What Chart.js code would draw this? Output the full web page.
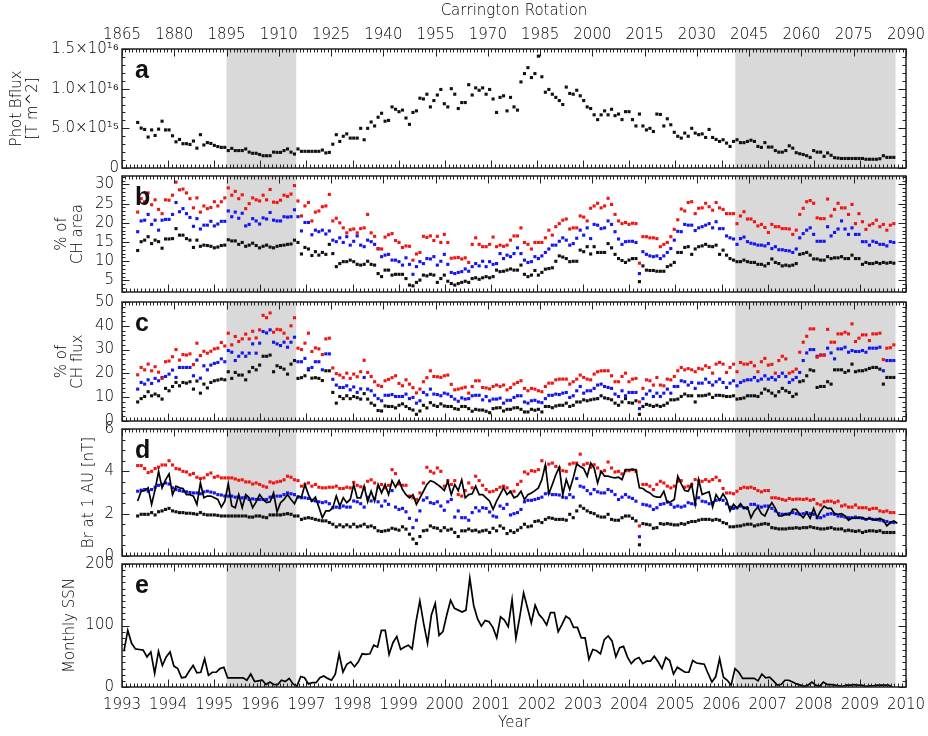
<!DOCTYPE html>
<html>
<head>
<meta charset="utf-8">
<title>Photospheric flux, coronal holes and open field, 1993-2010</title>
<script src="https://cdn.jsdelivr.net/npm/chart.js@4.4.1/dist/chart.umd.min.js"></script>
<style>
  html, body { margin: 0; padding: 0; background: #fff; }
  #page { position: relative; width: 928px; height: 736px; overflow: hidden; background: #fff; }
  #page canvas { position: absolute; left: 0; }
</style>
</head>
<body>
<div id="page"></div>
<script>
// ---------------------------------------------------------------------------
// Axes
// ---------------------------------------------------------------------------
const rotationTicks = [1865, 1880, 1895, 1910, 1925, 1940, 1955, 1970, 1985, 2000, 2015, 2030, 2045, 2060, 2075, 2090];
const yearTicks = [1993, 1994, 1995, 1996, 1997, 1998, 1999, 2000, 2001, 2002, 2003, 2004, 2005, 2006, 2007, 2008, 2009, 2010];

// Solar-minimum intervals (Carrington rotations) that are shaded grey
const quietRotations = [[1895, 1915], [2041, 2087]];

// One value per Carrington rotation, starting at this rotation
const firstRotation = 1869;

// (a) photospheric unsigned flux, in units of 1e15 T m^2
const photFluxE15 = [
  5.74, 5.03, 4.86, 3.9, 4.8, 4.1, 4.9, 5.9, 4.8, 4.8,
  4.06, 3.3, 3.6, 3.06, 3.06, 2.97, 3.4, 2.5, 4.2, 2.9,
  3.2, 3.1, 2.85, 2.7, 2.6, 2.6, 2.2, 2.47, 2.2, 2.2,
  2.2, 2.4, 2.0, 1.85, 1.85, 1.7, 1.55, 1.55, 1.55, 2.0,
  1.97, 1.97, 2.2, 2.4, 2.0, 1.76, 2.4, 2.1, 2.1, 2.1,
  2.1, 2.1, 2.1, 2.26, 1.9, 1.97, 3.0, 4.2, 3.35, 4.0,
  4.3, 3.77, 3.77, 3.77, 5.0, 3.56, 5.0, 5.8, 5.3, 6.4,
  6.9, 5.9, 6.0, 7.7, 7.4, 7.1, 7.3, 6.3, 5.5, 7.0,
  7.2, 8.8, 8.7, 9.3, 7.7, 8.5, 9.2, 9.9, 8.1, 7.7,
  10.0, 9.3, 7.5, 8.25, 8.25, 10.5, 9.2, 10.1, 9.8, 10.1,
  9.3, 9.9, 8.7, 7.0, 8.9, 9.1, 7.2, 8.9, 7.7,
  7.3, 10.85, 11.9, 12.65, 11.4, 11.9, 14.1, 11.5, 9.55, 9.9,
  9.3, 8.9, 8.5, 8.0, 10.2, 9.4, 9.3, 9.8, 9.1, 8.5,
  7.7, 7.5, 6.7, 6.1, 6.7, 7.2, 6.7, 7.4, 6.6, 6.8,
  6.1, 7.1, 7.1, 6.1, 5.3, 6.8, 5.3, 4.8, 5.0, 4.6,
  6.8, 6.75, 5.3, 6.2, 5.45, 4.5, 4.0, 3.77, 4.4, 4.0,
  5.0, 4.4, 4.2, 4.3, 3.85, 4.86, 3.85, 3.6, 3.35, 3.56,
  3.14, 2.72, 3.35, 3.56, 3.2, 3.2, 3.35, 3.5, 3.35, 2.72,
  2.6, 3.2, 2.64, 2.64, 2.2, 2.0, 2.0, 2.2, 2.8, 2.5,
  1.93, 1.8, 1.7, 1.55, 1.34, 2.2, 2.0, 2.0, 1.47, 1.9,
  1.6, 1.3, 1.25, 1.2, 1.2, 1.2, 1.2, 1.2, 1.2, 1.2,
  1.1, 1.1, 1.1, 1.1, 1.17, 1.55, 1.34, 1.34, 1.34
];

// (b) coronal-hole area, % (red / blue / black estimates)
const chAreaRed = [
  22.8, 26.3, 25.5, 27.8, 24.7, 26.0, 23.5, 22.4, 26.0, 25.9,
  27.2, 30.6, 28.6, 28.8, 27.8, 26.3, 23.9, 26.5, 22.8, 24.4,
  23.7, 24.0, 25.5, 24.4, 25.5, 26.5, 29.1, 27.2, 28.2, 26.3,
  27.3, 23.7, 25.0, 26.5, 26.0, 25.7, 27.2, 26.0, 28.7, 25.4,
  25.3, 25.9, 27.2, 26.9, 27.5, 29.7, 25.7, 21.8, 24.4, 25.3,
  20.5, 22.8,
  23.1, 24.2, 24.4, 27.4, 20.5, 21.2, 20.0, 18.7, 17.4, 18.2,
  18.4, 17.4, 18.5, 18.7, 22.2, 17.4, 16.5, 13.2, 13.2, 16.3,
  16.9, 17.2, 15.4, 14.9, 13.6, 14.0, 13.9, 10.3, 11.9, 12.3,
  16.5, 16.2, 16.6, 15.4, 16.5, 14.9, 17.0, 14.9, 10.8, 10.9,
  11.0, 10.6, 10.9, 9.7, 14.4, 16.1, 14.4, 13.8, 13.8, 14.4,
  16.3, 13.8, 14.2, 13.9, 14.2, 15.5, 16.6,
  16.6, 18.7, 14.9, 14.4, 13.2, 14.9, 14.9, 14.9, 16.1, 18.1,
  16.8, 19.0, 19.8, 20.7, 21.0, 18.4, 18.7, 18.7, 21.8, 21.5,
  20.5, 23.8, 24.4, 25.1, 23.9, 24.4, 26.4, 24.8, 22.2, 20.5,
  19.8, 20.1, 19.6, 19.9, 19.8, 9.5,
  16.4, 16.4, 16.1, 16.1, 15.9, 13.8, 14.4, 14.9, 16.4, 18.3,
  20.8, 23.6, 23.1, 25.3, 25.5, 22.4, 23.8, 23.9, 25.1, 24.2,
  23.3, 25.3, 23.9, 23.5, 22.4, 22.4, 22.4, 19.8, 21.8, 22.9,
  21.0, 21.0, 20.3, 19.2, 19.6, 18.8, 17.5, 19.6, 19.0, 19.0,
  18.5, 18.5, 18.4, 17.0, 18.1, 22.2, 23.8, 25.5, 25.8, 25.1,
  21.3, 21.1, 21.1, 26.2, 21.8, 23.5, 25.1, 23.9, 23.9, 22.2,
  24.8, 19.8, 22.4, 20.3, 18.3, 19.4, 19.8, 20.7, 19.0, 19.6,
  18.1, 19.4, 19.8
];
const chAreaBlue = [
  17.7, 20.5, 20.7, 22.2, 19.6, 20.7, 18.1, 20.7, 20.9, 20.9,
  22.2, 25.3, 22.9, 23.7, 22.4, 21.4, 19.1, 21.1, 18.4, 19.4,
  19.4, 20.4, 19.2, 19.7, 20.4, 20.4, 23.1, 21.6, 22.8, 21.2,
  22.5, 19.2, 19.6, 21.1, 20.5, 19.7, 21.3, 21.0, 22.7, 20.7,
  20.5, 20.5, 21.6, 21.5, 21.6, 23.4, 21.6, 17.9, 20.1, 20.1,
  16.9, 18.1,
  17.7, 18.1, 17.1, 17.9, 15.5, 15.1, 16.1, 14.9, 16.4, 14.2,
  15.2, 16.6, 14.2, 13.8, 15.5, 15.1, 14.4, 13.3, 11.2, 11.6,
  11.8, 10.3, 10.3, 9.9, 9.0, 10.9, 9.2, 6.6, 8.6, 9.9,
  9.4, 10.7, 10.6, 11.2, 9.0, 10.0, 11.8, 9.2, 7.1, 6.8,
  7.1, 7.3, 8.0, 7.4, 8.6, 9.4, 8.8, 10.0, 8.6, 9.9,
  9.2, 9.4, 12.0, 10.7, 11.6, 11.2, 12.0,
  13.5, 12.0, 10.3, 9.7, 9.9, 11.2, 10.7, 11.4, 12.3, 13.2,
  14.2, 14.2, 15.2, 16.1, 15.5, 14.2, 14.6, 16.0, 18.1, 16.8,
  18.7, 15.9, 19.6, 19.4, 18.5, 18.7, 20.5, 19.6, 17.7, 15.8,
  14.4, 15.1, 15.2, 15.2, 14.9, 6.8,
  12.5, 11.8, 11.4, 11.2, 11.4, 10.7, 11.4, 12.3, 13.3, 15.5,
  17.8, 17.7, 19.6, 19.4, 19.4, 18.0, 18.7, 19.0, 19.4, 19.8,
  18.7, 20.3, 18.5, 18.5, 16.6, 16.1, 15.8, 14.4, 15.9, 16.3,
  15.1, 14.7, 14.5, 14.2, 14.2, 14.0, 14.6, 13.3, 13.8, 13.0,
  13.0, 12.8, 12.7, 12.3, 13.2, 16.1, 17.2, 18.1, 18.7, 17.0,
  15.2, 15.2, 15.2, 19.0, 16.6, 17.5, 18.4, 20.5, 18.4, 17.0,
  18.7, 17.0, 17.0, 15.1, 15.1, 14.2, 15.2, 14.9, 14.4, 14.4,
  14.0, 15.1, 14.9
];
const chAreaBlack = [
  12.8, 15.1, 15.5, 16.4, 14.6, 15.5, 15.1, 13.4, 15.8, 15.8,
  15.9, 18.5, 16.8, 16.8, 15.9, 15.5, 13.6, 15.5, 13.9, 14.2,
  14.1, 13.9, 13.5, 13.7, 14.1, 14.2, 15.6, 15.3, 15.3, 14.4,
  14.9, 13.9, 14.2, 14.7, 14.1, 13.5, 13.9, 14.2, 13.7, 13.5,
  13.9, 14.1, 14.2, 14.4, 14.5, 15.5, 14.9, 11.9, 13.6, 13.2,
  11.5, 12.5,
  11.6, 12.3, 11.8, 14.4, 12.0, 8.6, 9.4, 9.9, 9.9, 10.3,
  9.9, 9.2, 9.0, 9.2, 10.0, 9.2, 9.0, 6.8, 6.0, 7.7,
  7.7, 6.4, 6.6, 6.6, 6.6, 5.5, 3.8, 3.6, 4.5, 5.1,
  6.4, 6.2, 6.6, 6.4, 4.5, 5.5, 6.4, 4.8, 4.2, 3.8,
  4.2, 4.5, 4.8, 4.5, 5.5, 5.7, 5.3, 5.7, 6.0, 5.7,
  6.0, 7.7, 7.3, 7.4, 7.7, 8.0, 7.7,
  7.7, 9.0, 6.6, 6.0, 6.4, 7.6, 6.4, 7.1, 7.95, 8.1,
  8.3, 10.0, 11.4, 11.1, 10.7, 9.9, 10.0, 10.0, 12.9, 12.5,
  13.8, 11.9, 13.8, 12.3, 12.3, 12.3, 14.6, 13.5, 11.8, 10.7,
  10.2, 9.7, 10.3, 10.7, 10.7, 4.7,
  8.8, 7.7, 7.6, 7.6, 7.4, 7.4, 7.4, 8.6, 9.0, 9.7,
  12.3, 12.3, 13.6, 13.8, 11.8, 13.2, 13.8, 14.0, 14.4, 13.9,
  13.8, 14.2, 11.8, 12.9, 11.6, 10.7, 10.3, 9.9, 9.9, 10.3,
  9.9, 9.7, 9.7, 9.2, 9.2, 8.8, 9.4, 10.6, 9.7, 9.4,
  8.8, 9.0, 8.8, 9.0, 9.4, 11.8, 12.0, 12.3, 11.6, 10.6,
  10.6, 10.3, 10.3, 11.2, 10.7, 10.9, 10.9, 11.2, 10.7, 10.7,
  11.6, 10.7, 10.7, 9.2, 9.7, 9.4, 9.4, 9.7, 9.4, 9.7,
  9.5, 9.7, 9.5
];

// (c) coronal-hole share of the photospheric flux, %
const chFluxRed = [
  19.4, 22.5, 21.5, 23.9, 21.1, 22.8, 20.5, 17.9, 24.9, 25.2,
  27.0, 30.0, 25.6, 27.9, 27.7, 28.2, 23.7, 32.7, 27.5, 29.3,
  28.5, 29.3, 30.3, 30.6, 33.0, 31.5, 36.9, 32.0, 35.5, 33.4,
  34.5, 36.5, 34.5, 37.7, 34.9, 38.3, 44.4, 43.4, 45.4, 37.3,
  38.5, 38.3, 36.9, 34.8, 40.0, 43.4, 30.6, 30.0, 32.7, 36.9,
  29.2, 30.7, 30.3, 27.9, 34.5, 34.8, 22.3, 19.9, 19.3, 18.2,
  20.1, 17.9, 19.7, 18.6, 20.7, 25.5, 20.4, 18.7, 16.5, 15.0,
  14.5, 16.9, 17.5, 18.2, 19.0, 15.8, 14.8, 17.3, 15.5, 14.0,
  11.8, 13.4, 16.5, 18.2, 21.1, 18.7, 18.6, 18.3, 19.0, 19.3,
  15.4, 13.1, 13.4, 13.8, 14.2, 11.7, 14.5, 16.9, 16.9, 14.1,
  13.9, 13.5, 14.5, 15.1, 14.5, 15.1, 13.1, 14.0, 15.5,
  16.2, 16.9, 13.7, 12.7, 13.7, 13.4, 12.7, 12.3, 14.5, 15.9,
  15.9, 17.3, 17.6, 17.6, 17.6, 15.5, 16.5, 17.6, 19.3, 18.3,
  17.6, 17.3, 19.7, 20.7, 21.1, 21.1, 21.1, 19.0, 16.5, 16.5,
  18.7, 20.1, 16.5, 17.6, 17.9, 8.0,
  13.7, 17.3, 16.9, 15.1, 18.3, 15.1, 14.8, 17.6, 17.3, 18.7,
  21.1, 22.5, 21.5, 22.0, 21.5, 20.7, 22.1, 21.8, 23.2, 22.5,
  20.1, 23.9, 24.6, 23.9, 20.4, 22.5, 23.9, 20.7, 24.6, 23.9,
  23.9, 24.6, 23.2, 20.7, 24.9, 26.3, 23.5, 23.8, 20.1, 25.4,
  27.2, 26.1, 20.1, 20.7, 21.8, 28.9, 33.1, 35.6, 38.7, 38.7,
  26.8, 27.7, 27.7, 38.5, 33.1, 33.1, 36.6, 36.6, 37.3, 36.6,
  40.8, 33.4, 34.8, 36.2, 36.2, 33.8, 36.6, 36.6, 36.9, 25.8,
  30.6, 30.8, 32.0
];
const chFluxBlue = [
  13.4, 16.2, 15.5, 17.3, 15.8, 17.9, 16.9, 18.3, 18.7, 19.7,
  21.4, 18.3, 22.5, 22.5, 22.5, 22.5, 19.0, 25.6, 18.0, 23.2,
  21.5, 23.5, 24.2, 24.6, 26.1, 24.9, 29.6, 28.9, 25.4, 27.2,
  28.6, 27.2, 28.5, 32.4, 28.5, 32.7, 37.6, 37.0, 38.3, 33.1,
  32.4, 31.7, 33.1, 31.0, 33.1, 35.2, 24.9, 24.9, 26.3, 22.0,
  22.5, 24.9, 24.9, 21.5, 28.2, 28.2, 17.5, 15.1, 14.1, 14.1,
  14.8, 13.1, 14.3, 12.0, 13.5, 18.3, 13.4, 12.7, 10.8, 9.4,
  8.5, 10.8, 10.8, 11.1, 10.3, 10.3, 10.3, 11.3, 9.4, 9.9,
  7.5, 8.5, 12.0, 11.0, 13.4, 11.3, 11.1, 10.6, 11.7, 11.3,
  10.3, 9.2, 8.3, 9.7, 9.2, 9.4, 10.6, 10.8, 10.8, 8.9,
  10.3, 8.5, 9.2, 9.2, 9.6, 7.5, 8.7, 8.7, 9.9,
  10.6, 10.6, 8.0, 7.5, 8.5, 8.7, 8.0, 7.7, 9.4, 10.8,
  10.8, 11.3, 11.1, 11.7, 12.0, 9.9, 10.6, 12.7, 14.5, 11.7,
  12.7, 12.7, 13.7, 15.1, 15.5, 14.5, 14.1, 13.7, 11.3, 10.3,
  12.7, 10.6, 12.0, 12.0, 12.0, 5.2,
  9.4, 11.3, 12.7, 10.3, 11.7, 10.3, 11.7, 13.4, 11.7, 14.5,
  14.5, 16.9, 16.5, 15.1, 16.2, 13.7, 15.9, 15.9, 17.6, 16.2,
  15.1, 16.5, 17.6, 16.2, 14.1, 15.9, 16.9, 14.8, 16.2, 16.9,
  17.3, 17.3, 18.3, 16.9, 17.6, 19.0, 17.6, 18.3, 17.3, 18.7,
  20.1, 18.7, 16.2, 17.3, 18.3, 20.4, 25.4, 28.6, 30.0, 30.0,
  27.2, 27.7, 27.7, 30.6, 28.6, 26.1, 30.3, 30.3, 31.0, 28.9,
  29.6, 29.2, 29.2, 29.6, 28.9, 30.6, 30.6, 30.6, 31.0, 21.1,
  25.4, 25.4, 25.4
];
const chFluxBlack = [
  8.0, 9.4, 10.3, 12.3, 10.6, 11.3, 10.6, 9.2, 13.7, 12.7,
  14.5, 16.2, 14.8, 16.2, 15.9, 16.5, 13.4, 16.8, 11.7, 15.5,
  13.9, 16.2, 16.9, 17.2, 17.6, 17.3, 20.7, 17.9, 20.4, 19.3,
  19.3, 17.3, 20.7, 22.5, 21.5, 23.5, 27.2, 27.2, 27.7, 20.7,
  23.2, 22.5, 21.8, 19.7, 23.9, 25.4, 17.9, 18.2, 19.0, 21.5,
  18.0, 18.2, 17.9, 17.0, 21.1, 21.1, 12.0, 7.5, 10.3, 9.4,
  10.6, 9.4, 10.3, 9.8, 9.2, 11.5, 9.2, 7.5, 6.6, 4.4,
  4.2, 6.3, 6.1, 6.1, 5.5, 6.6, 7.2, 6.1, 5.2, 4.6,
  2.8, 4.2, 6.6, 5.5, 7.7, 6.6, 6.1, 7.2, 6.3, 6.1,
  6.1, 5.2, 4.9, 6.1, 6.1, 5.2, 4.1, 4.9, 4.6, 4.6,
  4.1, 3.5, 5.2, 5.5, 5.6, 4.2, 4.9, 4.9, 5.5,
  5.6, 4.9, 3.8, 3.8, 4.9, 4.5, 4.9, 3.8, 6.1, 6.1,
  5.6, 6.3, 6.6, 6.6, 7.5, 6.1, 6.6, 8.0, 8.0, 8.9,
  8.5, 8.9, 9.2, 9.4, 10.6, 9.7, 9.4, 8.9, 7.5, 6.6,
  8.0, 9.4, 7.7, 7.5, 8.5, 2.8,
  6.1, 7.0, 6.6, 6.1, 6.6, 6.1, 6.6, 7.5, 8.9, 8.9,
  9.2, 10.3, 11.3, 10.6, 10.6, 8.0, 10.6, 10.6, 10.8, 11.3,
  9.9, 10.8, 10.8, 10.6, 10.3, 10.3, 10.6, 9.2, 9.4, 9.7,
  10.6, 10.6, 10.6, 10.3, 11.7, 13.4, 12.7, 11.7, 10.6, 12.3,
  13.7, 12.7, 12.0, 10.3, 11.3, 16.5, 16.9, 19.0, 21.5, 21.1,
  14.1, 14.5, 14.5, 16.5, 15.5, 21.5, 21.5, 21.5, 20.4, 21.1,
  23.9, 20.7, 21.1, 21.1, 21.5, 22.1, 22.5, 22.5, 21.8, 15.5,
  18.3, 18.3, 18.3
];

// (d) radial field at 1 AU, nT: model estimates (dots) and observed (line)
const brRed = [
  4.27, 4.27, 4.13, 3.94, 4.0, 4.13, 4.2, 4.3, 4.3, 4.5,
  4.3, 4.13, 4.1, 4.0, 3.97, 3.84, 3.9, 3.72, 3.66, 3.69,
  3.84, 3.92, 3.72, 3.77, 3.69, 3.69, 3.69, 3.69, 3.64, 3.58,
  3.6, 3.5, 3.5, 3.4, 3.45, 3.38, 3.3, 3.25, 3.5, 3.45,
  3.5, 3.53, 3.6, 3.77, 3.72, 3.6, 3.56, 3.3, 3.38, 3.45,
  3.3, 3.38, 3.25, 3.22, 3.22, 3.25, 3.25, 3.3, 3.19, 3.19,
  3.25, 3.22, 3.48, 3.34, 3.27, 3.22, 3.53, 3.6, 3.45, 3.25,
  3.38, 3.22, 3.34, 4.08, 3.89, 3.4, 3.34, 3.34, 2.83, 2.75,
  2.67, 2.98, 3.45, 4.19, 4.0, 3.92, 4.16, 4.0, 3.3, 3.56,
  3.38, 3.56, 2.9, 2.83, 3.09, 3.45, 3.22, 3.77, 3.56, 3.34,
  3.14, 3.03, 3.06, 3.14, 3.25, 3.3, 3.22, 3.02, 3.06,
  3.38, 3.53, 3.97, 3.88, 4.03, 4.0, 4.08, 4.5, 4.19, 4.34,
  4.39, 4.23, 4.16, 4.03, 4.0, 4.34, 4.39, 4.39, 4.81, 4.31,
  4.38, 4.19, 4.31, 4.16, 3.97, 4.03, 4.44, 4.16, 3.97, 4.0,
  3.88, 4.03, 4.03, 4.08, 4.0, 1.42,
  3.38, 3.38, 3.3, 3.14, 3.38, 3.53, 3.45, 3.3, 3.22, 3.3,
  3.53, 3.56, 3.25, 3.3, 3.38, 3.61, 3.56, 3.53, 3.61, 3.53,
  3.61, 3.72, 3.56, 3.19, 2.98, 2.98, 2.94, 3.06, 3.19, 3.25,
  3.22, 3.25, 3.19, 3.09, 3.03, 3.09, 3.09, 2.75, 2.75, 2.72,
  2.67, 2.63, 2.72, 2.67, 2.69, 2.69, 2.67, 2.7, 2.63, 2.67,
  2.47, 2.41, 2.56, 2.59, 2.59, 2.52, 2.59, 2.36, 2.41, 2.31,
  2.31, 2.41, 2.28, 2.28, 2.28, 2.2, 2.25, 2.25, 2.13, 2.09,
  2.13, 2.05, 2.05
];
const brBlue = [
  3.06, 3.11, 3.14, 3.06, 3.14, 3.25, 3.34, 3.38, 3.45, 3.4,
  3.22, 3.14, 3.09, 3.06, 3.03, 3.0, 2.98, 2.98, 2.94, 3.03,
  3.06, 3.02, 2.98, 2.9, 2.88, 2.83, 2.83, 2.83, 2.78, 2.78,
  2.75, 2.75, 2.67, 2.7, 2.67, 2.67, 2.67, 2.67, 2.78, 2.78,
  2.83, 2.83, 2.9, 2.98, 2.94, 2.9, 2.78, 2.75, 2.75, 2.72,
  2.63, 2.6, 2.56, 2.52, 2.56, 2.47, 2.28, 2.31, 2.28, 2.36,
  2.31, 2.31, 2.6, 2.56, 2.47, 2.31, 2.78, 2.6, 2.72, 2.56,
  2.36, 2.6, 2.44, 3.09, 2.31, 2.2, 2.25, 2.09, 1.78, 1.34,
  1.69, 2.13, 2.64, 2.75, 2.52, 2.48, 2.56, 2.36, 2.16, 2.56,
  2.67, 1.84, 2.13, 1.81, 1.81, 1.69, 2.05, 2.28, 2.13, 2.28,
  2.25, 2.08, 1.89, 1.84, 2.36, 2.25, 2.44, 1.94, 2.0,
  2.05, 2.2, 2.56, 2.63, 2.63, 2.67, 2.72, 2.78, 2.94, 2.98,
  2.9, 2.9, 2.88, 2.78, 2.75, 2.9, 2.78, 3.66, 3.3, 3.25,
  3.09, 2.94, 3.14, 3.03, 2.98, 2.98, 3.14, 3.06, 2.9, 2.67,
  2.78, 2.9, 2.78, 2.72, 2.59, 0.91,
  2.44, 2.41, 2.36, 2.2, 2.28, 2.44, 2.47, 2.56, 2.44, 2.31,
  2.36, 2.31, 2.36, 2.52, 2.47, 2.44, 2.75, 2.59, 2.56, 2.47,
  2.52, 2.63, 2.67, 2.63, 2.47, 2.31, 2.25, 2.28, 2.36, 2.28,
  2.25, 2.44, 2.44, 2.36, 2.31, 2.36, 2.36, 2.25, 2.13, 2.0,
  1.97, 1.97, 2.0, 2.05, 2.0, 1.97, 2.0, 2.05, 2.0, 1.97,
  1.81, 1.81, 1.89, 1.97, 2.0, 1.97, 1.89, 1.88, 1.84, 1.81,
  1.81, 1.84, 1.81, 1.78, 1.73, 1.78, 1.73, 1.73, 1.69, 1.66,
  1.63, 1.58, 1.58
];
const brBlack = [
  1.89, 1.97, 1.97, 1.97, 2.05, 1.94, 2.09, 2.13, 2.2, 2.25,
  2.13, 2.09, 2.05, 2.05, 2.02, 2.02, 2.0, 1.97, 2.05, 1.97,
  1.94, 1.94, 1.94, 1.92, 1.89, 1.89, 1.89, 1.89, 1.89, 1.89,
  1.89, 1.89, 1.84, 1.84, 1.89, 1.89, 1.84, 1.81, 1.94, 1.94,
  1.94, 1.94, 1.97, 2.0, 1.97, 1.89, 1.89, 1.73, 1.78, 1.81,
  1.78, 1.73, 1.69, 1.66, 1.66, 1.58, 1.5, 1.38, 1.47, 1.38,
  1.47, 1.38, 1.5, 1.38, 1.42, 1.5, 1.38, 1.42, 1.34, 1.19,
  1.16, 1.19, 1.22, 1.31, 1.27, 1.22, 1.38, 1.27, 1.03, 0.8,
  0.59, 0.92, 1.19, 1.22, 1.42, 1.34, 1.31, 1.19, 1.34, 1.22,
  1.27, 1.11, 0.92, 1.19, 1.19, 1.27, 1.19, 1.22, 1.14, 1.19,
  1.22, 1.11, 1.31, 1.19, 1.42, 1.31, 1.06, 1.19, 1.11,
  1.22, 1.34, 1.5, 1.38, 1.42, 1.63, 1.66, 1.58, 1.73, 1.81,
  1.78, 1.73, 1.73, 1.73, 1.69, 1.97, 1.81, 2.13, 2.36, 2.25,
  2.13, 2.05, 2.0, 1.89, 1.84, 1.84, 1.97, 1.73, 1.69, 1.69,
  1.81, 1.89, 1.89, 1.78, 1.66, 0.53,
  1.53, 1.5, 1.47, 1.31, 1.34, 1.53, 1.5, 1.53, 1.5, 1.47,
  1.47, 1.53, 1.5, 1.58, 1.63, 1.63, 1.69, 1.73, 1.73, 1.73,
  1.69, 1.73, 1.69, 1.58, 1.53, 1.38, 1.38, 1.41, 1.42, 1.47,
  1.5, 1.5, 1.42, 1.47, 1.5, 1.53, 1.5, 1.34, 1.31, 1.28,
  1.28, 1.28, 1.31, 1.31, 1.34, 1.31, 1.34, 1.34, 1.38, 1.34,
  1.31, 1.28, 1.28, 1.31, 1.34, 1.28, 1.27, 1.28, 1.19, 1.22,
  1.19, 1.16, 1.19, 1.11, 1.16, 1.19, 1.19, 1.16, 1.19, 1.11,
  1.11, 1.11, 1.11
];
const brObserved = [
  2.6, 3.06, 3.09, 3.22, 2.44, 3.14, 4.0, 3.22, 3.6, 3.88,
  2.9, 3.3, 3.22, 3.19, 2.9, 2.9, 2.83, 2.44, 3.45, 2.75,
  2.83, 2.83, 2.75, 2.67, 2.31, 2.59, 3.41, 2.36, 2.28, 2.9,
  2.28, 2.9, 2.75, 2.28, 2.56, 2.9, 2.67, 2.52, 2.56, 2.98,
  2.09, 2.52, 2.67, 2.9, 2.67, 2.47, 2.83, 2.78, 3.38, 2.9,
  2.59, 2.78, 2.31, 1.81, 2.13, 2.13, 2.28, 2.83, 2.36, 2.75,
  2.52, 2.67, 3.38, 2.75, 2.75, 3.3, 2.56, 3.06, 2.59, 3.38,
  2.98, 3.38, 2.9, 3.56, 3.25, 3.56, 3.14, 2.9, 2.75, 2.9,
  2.44, 2.75, 3.06, 3.38, 3.56, 3.5, 3.38, 3.25, 3.09, 3.53,
  2.9, 3.38, 3.09, 3.6, 2.75, 2.9, 2.94, 3.3, 2.9, 2.9,
  2.75, 2.59, 2.2, 2.59, 2.9, 3.22, 2.9, 3.06, 2.75,
  2.83, 3.06, 2.67, 2.9, 2.98, 3.09, 3.22, 3.61, 4.31, 2.94,
  3.38, 3.84, 4.19, 2.9, 3.61, 3.14, 3.69, 4.34, 4.23, 4.13,
  3.77, 4.39, 4.16, 3.45, 4.0, 3.77, 3.77, 3.72, 3.69, 3.72,
  3.61, 4.08, 4.08, 4.08, 4.08, 3.22,
  3.19, 3.06, 2.98, 2.83, 2.78, 2.78, 3.06, 2.52, 2.56, 2.67,
  3.77, 3.41, 3.09, 3.06, 3.38, 2.44, 3.61, 2.9, 2.98, 3.03,
  2.31, 2.9, 2.63, 2.94, 2.67, 2.13, 2.44, 2.25, 2.47, 2.25,
  2.31, 1.81, 2.13, 2.31, 2.0, 1.89, 2.25, 2.52, 2.25, 1.89,
  1.89, 2.0, 1.94, 2.2, 2.2, 1.97, 1.81, 2.05, 1.78, 2.25,
  1.81, 2.13, 2.36, 2.25, 2.25, 2.0, 1.97, 2.0, 1.89, 1.69,
  1.81, 1.78, 1.81, 1.81, 1.73, 1.78, 1.73, 1.69, 1.78, 1.69,
  1.42, 1.58, 1.66, 1.55
];

// (e) monthly sunspot number, from January 1993
const ssnFirstYear = 1993;
const ssnMonthly = [
  58, 92, 71, 62, 61, 60, 49, 57, 22, 58, 35, 49,
  57, 34, 30, 15, 16, 26, 35, 23, 24, 46, 19, 24,
  24, 30, 32, 15, 15, 15, 15, 15, 11, 21, 9, 10,
  11, 4, 8, 4, 4, 11, 9, 14, 5, 1, 17, 15,
  5, 7, 7, 15, 18, 14, 11, 21, 54, 24, 37, 41,
  33, 41, 54, 53, 54, 68, 65, 92, 92, 53, 72, 82,
  61, 65, 68, 62, 106, 140, 103, 71, 117, 136, 84, 90,
  117, 141, 128, 125, 122, 125, 177, 133, 111, 99, 108, 106,
  97, 80, 114, 109, 98, 142, 79, 114, 153, 129, 104, 133,
  118, 111, 101, 121, 121, 90, 102, 115, 111, 97, 97, 80,
  80, 45, 61, 59, 54, 77, 83, 75, 49, 64, 66, 49,
  38, 45, 48, 38, 42, 42, 50, 41, 30, 48, 43, 21,
  32, 28, 24, 24, 43, 39, 38, 37, 22, 8, 17, 46,
  16, 11, 3, 30, 24, 14, 14, 14, 14, 10, 21, 15,
  16, 10, 3, 4, 11, 11, 8, 5, 3, 1, 3, 8,
  3, 1, 8, 4, 4, 3, 2, 1, 3, 3, 4, 3,
  3, 1, 2, 2, 3, 3, 3, 3, 0
];

// ---------------------------------------------------------------------------
// Drawing
// ---------------------------------------------------------------------------
const RED = '#f01515', BLUE = '#1515f0', BLACK = '#111111';
const TEXT = '#000000';
const AXIS_FONT = { family: '"DejaVu Sans", "Liberation Sans", sans-serif', size: 15, weight: '300' };
const TITLE_FONT = { family: '"DejaVu Sans", "Liberation Sans", sans-serif', size: 15, weight: '300', lineHeight: 1.07 };
const FRAME_LEFT = 122, FRAME_RIGHT = 906, PAGE_W = 928, PAGE_H = 736;
const MAJOR_TICK = 7.5, MINOR_TICK = 3.5;

const byRotation = values => values.map((v, i) => ({ x: firstRotation + i + 0.5, y: v }));
const byMonth = values => values.map((v, i) => ({ x: ssnFirstYear + (i + 0.5) / 12, y: v }));

const dots = (values, color) => ({
  data: byRotation(values), xAxisID: 'cr', showLine: false,
  pointStyle: 'rect', pointRadius: 2.2, pointHoverRadius: 2.2,
  pointBorderWidth: 0, backgroundColor: color, borderColor: color
});
const line = (data, xAxisID) => ({
  data, xAxisID, showLine: true, pointRadius: 0, pointHoverRadius: 0,
  borderColor: '#000', borderWidth: 1.7, tension: 0, fill: false
});

// Keep every panel's plotting frame at the same fixed box, whatever the labels need
const noLabelPadding = s => { s.paddingLeft = 0; s.paddingRight = 0; s.paddingTop = 0; s.paddingBottom = 0; };

// Shading, inward IDL-style ticks on all four sides, frame and panel letter
const panelFrame = {
  id: 'panelFrame',
  beforeDatasetsDraw(chart) {
    const { ctx, chartArea: a, scales } = chart;
    ctx.save();
    ctx.fillStyle = '#d9d9d9';
    for (const [r0, r1] of quietRotations) {
      const x0 = scales.cr.getPixelForValue(r0);
      const x1 = scales.cr.getPixelForValue(r1);
      ctx.fillRect(x0, a.top, x1 - x0, a.bottom - a.top);
    }
    ctx.restore();
  },
  afterDatasetsDraw(chart, args, opts) {
    const { ctx, chartArea: a, scales } = chart;
    const y = scales.y;
    ctx.save();
    ctx.strokeStyle = '#222';
    ctx.lineWidth = 1;
    ctx.beginPath();
    const seg = (x1, y1, x2, y2) => { ctx.moveTo(x1, y1); ctx.lineTo(x2, y2); };

    const perMajor = Math.round(opts.yMajor / opts.yMinor);
    const k0 = Math.ceil(y.min / opts.yMinor - 1e-6), k1 = Math.floor(y.max / opts.yMinor + 1e-6);
    for (let k = k0; k <= k1; k++) {
      const py = Math.round(y.getPixelForValue(k * opts.yMinor)) + 0.5;
      const len = k % perMajor === 0 ? MAJOR_TICK : MINOR_TICK;
      seg(a.left, py, a.left + len, py);
      seg(a.right, py, a.right - len, py);
    }
    const y0 = yearTicks[0], months = 12 * (yearTicks[yearTicks.length - 1] - y0);
    for (let m = 0; m <= months; m++) {
      const px = Math.round(scales.x.getPixelForValue(y0 + m / 12)) + 0.5;
      seg(px, a.bottom, px, a.bottom - (m % 12 === 0 ? MAJOR_TICK : MINOR_TICK));
    }
    const r0 = rotationTicks[0], rStep = rotationTicks[1] - rotationTicks[0];
    for (let r = r0; r <= rotationTicks[rotationTicks.length - 1]; r++) {
      const px = Math.round(scales.cr.getPixelForValue(r)) + 0.5;
      seg(px, a.top, px, a.top + ((r - r0) % rStep === 0 ? MAJOR_TICK : MINOR_TICK));
    }
    ctx.stroke();

    ctx.lineWidth = 1.5;
    ctx.strokeRect(a.left, a.top, a.right - a.left, a.bottom - a.top);

    ctx.fillStyle = '#111';
    ctx.font = 'bold 25px "Liberation Sans", Arial, sans-serif';
    ctx.textBaseline = 'alphabetic';
    ctx.textAlign = 'left';
    ctx.fillText(opts.letter, a.left + 13, a.top + 29);
    ctx.restore();
  }
};

const page = document.getElementById('page');

function makePanel(p) {
  const PAD = 14;
  const canvasTop = p.topAxis ? 0 : p.frameTop - PAD;
  const canvasBottom = p.bottomAxis ? PAGE_H : p.frameBottom + PAD;
  const canvas = document.createElement('canvas');
  canvas.width = PAGE_W;
  canvas.height = canvasBottom - canvasTop;
  canvas.style.top = canvasTop + 'px';
  page.appendChild(canvas);

  const hiddenGrid = { display: false, drawTicks: false };
  new Chart(canvas, {
    type: 'scatter',
    data: { datasets: p.datasets },
    plugins: [panelFrame],
    options: {
      responsive: false,
      animation: false,
      events: [],
      layout: { padding: {
        left: 0, right: PAGE_W - FRAME_RIGHT,
        top: p.topAxis ? 0 : PAD,
        bottom: p.bottomAxis ? 0 : PAD
      } },
      plugins: {
        legend: { display: false },
        tooltip: { enabled: false },
        panelFrame: { letter: p.letter, yMinor: p.yMinor, yMajor: p.yMajor }
      },
      scales: {
        x: {
          type: 'linear', axis: 'x', position: 'bottom',
          min: yearTicks[0], max: yearTicks[yearTicks.length - 1],
          display: !!p.bottomAxis,
          grid: hiddenGrid, border: { display: false },
          afterBuildTicks: s => { s.ticks = yearTicks.map(value => ({ value })); },
          afterFit: s => { noLabelPadding(s); if (p.bottomAxis) s.height = PAGE_H - p.frameBottom; },
          ticks: { autoSkip: false, maxRotation: 0, padding: 9, color: TEXT, font: AXIS_FONT,
                   callback: v => String(v) },
          title: { display: true, text: 'Year', color: TEXT, font: AXIS_FONT,
                   padding: { top: 0, bottom: 4 } }
        },
        cr: {
          type: 'linear', axis: 'x', position: 'top',
          min: rotationTicks[0], max: rotationTicks[rotationTicks.length - 1],
          display: !!p.topAxis,
          grid: hiddenGrid, border: { display: false },
          afterBuildTicks: s => { s.ticks = rotationTicks.map(value => ({ value })); },
          afterFit: s => { noLabelPadding(s); if (p.topAxis) s.height = p.frameTop; },
          ticks: { autoSkip: false, maxRotation: 0, padding: 5, color: TEXT, font: AXIS_FONT,
                   callback: v => String(v) },
          title: { display: true, text: 'Carrington Rotation', color: TEXT, font: AXIS_FONT,
                   padding: { top: 2, bottom: 0 } }
        },
        y: {
          type: 'linear', position: 'left',
          min: p.yMin, max: p.yMax,
          grid: hiddenGrid, border: { display: false },
          afterBuildTicks: s => { s.ticks = p.yTicks.map(value => ({ value })); },
          afterFit: s => { noLabelPadding(s); s.width = FRAME_LEFT; },
          ticks: { autoSkip: false, padding: p.yLabelPad, color: TEXT, font: AXIS_FONT,
                   callback: (v, i) => p.yTickLabels[i] },
          title: { display: true, text: p.yTitle, color: TEXT, font: TITLE_FONT,
                   padding: { top: p.yTitlePad, bottom: 0 } }
        }
      }
    }
  });
}

// (a) photospheric flux
makePanel({
  letter: 'a', frameTop: 49, frameBottom: 168, topAxis: true,
  yMin: 0, yMax: 15, yMinor: 1, yMajor: 5,
  yTicks: [0, 5, 10, 15], yTickLabels: ['0', '5.0×10¹⁵', '1.0×10¹⁶', '1.5×10¹⁶'],
  yLabelPad: 3, yTitle: ['Phot Bflux', '[T m^2]'], yTitlePad: 9,
  datasets: [dots(photFluxE15, BLACK)]
});

// (b) coronal-hole area
makePanel({
  letter: 'b', frameTop: 176, frameBottom: 292,
  yMin: 2, yMax: 32.2, yMinor: 1, yMajor: 5,
  yTicks: [5, 10, 15, 20, 25, 30], yTickLabels: ['5', '10', '15', '20', '25', '30'],
  yLabelPad: 8, yTitle: ['% of', 'CH area'], yTitlePad: 54,
  datasets: [dots(chAreaRed, RED), dots(chAreaBlue, BLUE), dots(chAreaBlack, BLACK)]
});

// (c) coronal-hole flux
makePanel({
  letter: 'c', frameTop: 302, frameBottom: 421,
  yMin: 0, yMax: 50, yMinor: 2, yMajor: 10,
  yTicks: [0, 10, 20, 30, 40, 50], yTickLabels: ['0', '10', '20', '30', '40', '50'],
  yLabelPad: 8, yTitle: ['% of', 'CH flux'], yTitlePad: 54,
  datasets: [dots(chFluxRed, RED), dots(chFluxBlue, BLUE), dots(chFluxBlack, BLACK)]
});

// (d) Br at 1 AU
makePanel({
  letter: 'd', frameTop: 429, frameBottom: 556,
  yMin: 0, yMax: 6, yMinor: 0.5, yMajor: 2,
  yTicks: [0, 2, 4, 6], yTickLabels: ['0', '2', '4', '6'],
  yLabelPad: 8, yTitle: 'Br at 1 AU [nT]', yTitlePad: 81,
  datasets: [line(byRotation(brObserved), 'cr'), dots(brRed, RED), dots(brBlue, BLUE), dots(brBlack, BLACK)]
});

// (e) monthly sunspot number
makePanel({
  letter: 'e', frameTop: 564, frameBottom: 687, bottomAxis: true,
  yMin: 0, yMax: 200, yMinor: 10, yMajor: 100,
  yTicks: [0, 100, 200], yTickLabels: ['0', '100', '200'],
  yLabelPad: 8, yTitle: 'Monthly SSN', yTitlePad: 62,
  datasets: [line(byMonth(ssnMonthly), 'x')]
});
</script>
</body>
</html>
